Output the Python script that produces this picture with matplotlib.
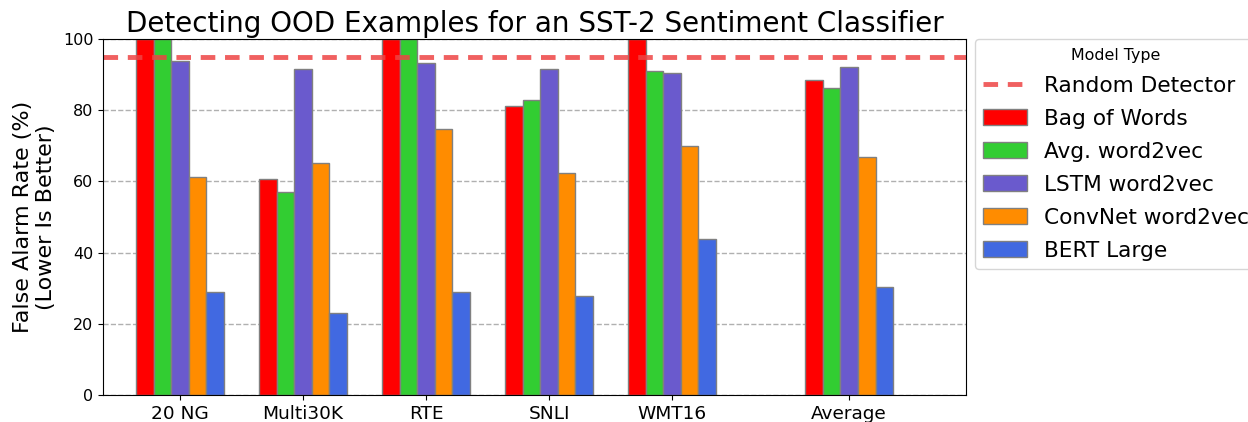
import numpy as np
import matplotlib.pyplot as plt

# Dados
datasets = ["20 NG", "Multi30K", "RTE", "SNLI", "WMT16", "Average"]
models = ["Bag of Words", "Avg. word2vec", "LSTM word2vec", "ConvNet word2vec", "BERT Large"]
colors = ["red", "limegreen", "slateblue", "darkorange", "royalblue"]

bag_of_words = [100, 60.6, 100, 81.3, 100, 88.4]
avg_word2vec = [100, 57.1, 100, 82.8, 91.0, 86.1]
lstm_word2vec = [93.9, 91.6, 93.3, 91.7, 90.4, 92.1]
convnet_word2vec = [61.3, 65.1, 74.8, 62.5, 70.0, 66.8]
bert_large = [28.8, 22.9, 28.8, 27.9, 43.9, 30.4]
random_detector = 95

series = [bag_of_words, avg_word2vec, lstm_word2vec, convnet_word2vec, bert_large]
positions = np.array([0, 1, 2, 3, 4, 5.44])
width = 0.143

fig = plt.figure(figsize=(12.48, 4.22), dpi=100)
fig.subplots_adjust(left=103/1248, right=966/1248, top=1-39/422, bottom=1-395/422)
ax = fig.gca()

ax.yaxis.grid(True, linestyle="--", color="#b0b0b0", linewidth=1)
ax.set_axisbelow(True)

ax.axhline(random_detector, color="#ee4444", alpha=0.85, linestyle="--",
           linewidth=3.5, dashes=(3, 2), label="Random Detector")

for i, (vals, name, c) in enumerate(zip(series, models, colors)):
    offs = (i - 2) * width
    ax.bar(positions + offs, vals, width, color=c, edgecolor="gray", linewidth=1, label=name)

ax.set_ylim(0, 100)
ax.set_xlim(-0.626, 6.39)
ax.set_xticks(positions)
ax.set_xticklabels(datasets, fontsize=13.3)
ax.tick_params(axis="y", labelsize=11.5)
ax.set_ylabel("False Alarm Rate (%)\n(Lower Is Better)", fontsize=16, labelpad=5)
ax.set_title("Detecting OOD Examples for an SST-2 Sentiment Classifier", fontsize=20, pad=5)

ax.legend(title="Model Type", loc="upper left", bbox_to_anchor=(1.01, 1.0),
          borderaxespad=0, fontsize=15.6, title_fontsize=11.4, handlelength=2,
          labelspacing=0.6)

fig.savefig("out.png", dpi=100)
